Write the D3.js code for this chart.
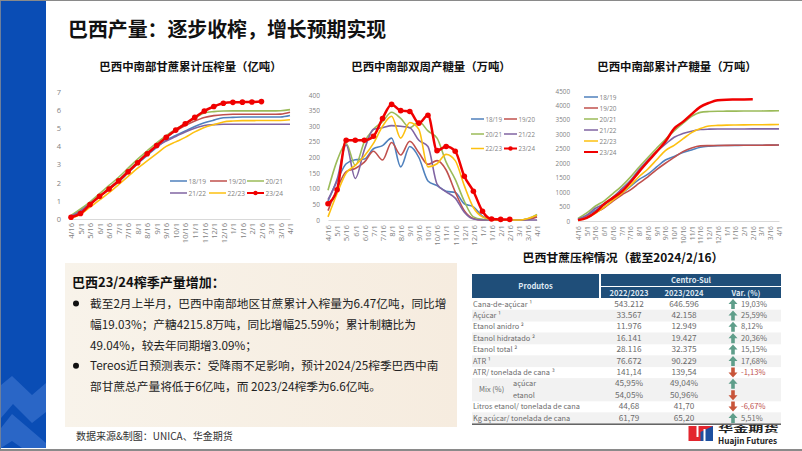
<!DOCTYPE html>
<html>
<head>
<meta charset="utf-8">
<script src="https://cdn.jsdelivr.net/npm/d3@7"></script>
<style>
  html, body { margin: 0; padding: 0; background: #fff; }
  svg { display: block; }
  text { font-family: "Noto Sans CJK SC", "Noto Sans", sans-serif; }
  .tick text, .legend-label { font-family: "Open Sans", "Noto Sans", sans-serif; fill: #7f7f7f; }
</style>
</head>
<body>
<svg id="page" width="802" height="451"></svg>
<script>
const dates = ["4/16","5/1","5/16","6/1","6/16","7/1","7/16","8/1","8/16","9/1","9/16","10/1","10/16","11/1","11/16","12/1","12/16","1/1","1/16","2/1","2/16","3/1","3/16","4/1"];
const seasons = ["18/19","19/20","20/21","21/22","22/23","23/24"];
const seasonColors = ["#4f81bd","#c0504d","#9bbb59","#8064a2","#fdc010","#f00000"];

// 累计压榨量 (亿吨)
const crush1819 = [0.15,0.45,0.85,1.25,1.65,2.05,2.55,3.05,3.5,3.95,4.35,4.6,4.85,5.1,5.3,5.45,5.58,5.6,5.62,5.62,5.62,5.62,5.62,5.7];
const crush1920 = [0.1,0.4,0.8,1.25,1.7,2.15,2.65,3.15,3.6,4.05,4.5,4.85,5.15,5.4,5.6,5.7,5.75,5.77,5.77,5.77,5.77,5.77,5.78,5.88];
const crush2021 = [0.2,0.55,0.95,1.4,1.85,2.3,2.8,3.3,3.75,4.2,4.6,4.95,5.25,5.55,5.85,5.92,5.95,5.96,5.96,5.96,5.96,5.96,5.97,6.03];
const crush2122 = [0.15,0.45,0.85,1.25,1.65,2.1,2.6,3.1,3.55,4.0,4.3,4.55,4.8,5.0,5.15,5.2,5.22,5.22,5.22,5.22,5.22,5.22,5.22,5.22];
const crush2223 = [0.05,0.25,0.65,1.05,1.45,1.9,2.35,2.8,3.2,3.6,4.0,4.25,4.5,4.8,5.05,5.2,5.35,5.4,5.42,5.42,5.43,5.43,5.43,5.47];
const crush2324 = [0.1,0.3,0.8,1.25,1.65,2.1,2.6,3.1,3.6,4.05,4.5,4.9,5.25,5.6,5.95,6.2,6.38,6.43,6.44,6.45,6.47];

// 双周产糖量 (万吨)
const sugar1819 = [60,125,180,193,195,228,238,262,170,235,200,125,110,92,88,52,42,12,1,0,0,0,3,15];
const sugar1920 = [30,100,155,165,185,220,192,248,208,252,215,178,190,160,90,30,5,0,0,0,0,0,2,10];
const sugar2021 = [95,190,245,175,250,290,315,345,325,295,315,285,262,185,130,60,10,2,0,0,0,0,4,18];
const sugar2122 = [65,130,240,133,225,290,295,302,300,295,255,235,115,90,70,25,3,0,0,0,0,0,0,0];
const sugar2223 = [10,85,150,175,205,245,300,332,262,312,290,170,180,210,190,110,40,10,2,0,0,0,5,15];
const sugar2324 = [52,97,255,255,255,268,325,370,350,347,310,335,222,235,220,140,92,28,3,2,2];

// 累计产糖量 (万吨)
const total1819 = [60,190,370,560,760,950,1200,1440,1620,1870,2110,2230,2370,2460,2550,2590,2610,2615,2618,2620,2620,2622,2625,2630];
const total1920 = [30,130,290,460,690,900,1080,1310,1530,1780,2000,2200,2400,2530,2600,2610,2615,2618,2620,2620,2622,2624,2626,2630];
const total2021 = [90,280,520,700,950,1210,1520,1870,2200,2520,2830,3120,3380,3620,3760,3790,3800,3802,3804,3806,3808,3810,3812,3815];
const total2122 = [60,200,440,600,830,1110,1400,1780,2110,2400,2660,2900,3030,3110,3165,3180,3185,3186,3186,3187,3188,3188,3189,3190];
const total2223 = [20,110,270,480,720,960,1230,1540,1800,2120,2440,2620,2840,3060,3200,3290,3310,3320,3325,3328,3330,3332,3335,3340];
const total2324 = [30,110,300,590,800,1020,1340,1710,2060,2400,2750,3200,3430,3700,3950,4090,4180,4200,4205,4210,4216];

// 表格
const tableNames = ["Cana-de-açúcar ¹","Açúcar ¹","Etanol anidro ²","Etanol hidratado ²","Etanol total ²","ATR ¹","ATR/ tonelada de cana ³","açúcar","etanol","Litros etanol/ tonelada de cana","Kg açúcar/ tonelada de cana"];
const table2223 = ["543.212","33.567","11.976","16.141","28.116","76.672","141,14","45,95%","54,05%","44,68","61,79"];
const table2324 = ["646.596","42.158","12.949","19.427","32.375","90.229","139,54","49,04%","50,96%","41,70","65,20"];
const tableVar = ["19,03%","25,59%","8,12%","20,36%","15,15%","17,68%","-1,13%","","","-6,67%","5,51%"];
const tableDir = [1,1,1,1,1,1,-1,1,-1,-1,1];

const bodyLines = [
  "截至2月上半月，巴西中南部地区甘蔗累计入榨量为6.47亿吨，同比增",
  "幅19.03%；产糖4215.8万吨，同比增幅25.59%；累计制糖比为",
  "49.04%，较去年同期增3.09%；",
  "Tereos近日预测表示：受降雨不足影响，预计2024/25榨季巴西中南",
  "部甘蔗总产量将低于6亿吨，而 2023/24榨季为6.6亿吨。"
];

const svg = d3.select("#page");

const defs = svg.append("defs");
const panelGrad = defs.append("linearGradient").attr("id", "panelGrad");
panelGrad.append("stop").attr("offset", "0%").attr("stop-color", "#f8f3ea");
panelGrad.append("stop").attr("offset", "100%").attr("stop-color", "#f6ecdf");

// 页面框架
svg.append("rect").attr("x", 0).attr("y", 1).attr("width", 46).attr("height", 447).attr("fill", "#0a4db5");
svg.selectAll(".chevron")
  .data([
    "M1,385 L12,376 L32,395 L46,383 L46,412 L32,423 L13,404 L1,418 Z",
    "M1,428 L12,414 L46,443 L46,448 L22,448 L12,441 L1,448 Z"
  ])
  .join("path").attr("class", "chevron").attr("d", d => d).attr("fill", "#2a66c6");
svg.append("rect").attr("x", 0).attr("y", 0).attr("width", 1).attr("height", 451).attr("fill", "#6d7f9c");
svg.append("rect").attr("x", 0).attr("y", 0).attr("width", 802).attr("height", 1).attr("fill", "#8a8a8a");
svg.append("rect").attr("x", 0).attr("y", 449).attr("width", 802).attr("height", 2).attr("fill", "#8a8a8a");

svg.append("text").attr("x", 68).attr("y", 36.5)
  .attr("font-size", 19.9).attr("font-weight", 700).attr("fill", "#111")
  .text("巴西产量：逐步收榨，增长预期实现");

const titles = [
  { x: 190.5, t: "巴西中南部甘蔗累计压榨量（亿吨）" },
  { x: 431, t: "巴西中南部双周产糖量（万吨）" },
  { x: 677, t: "巴西中南部累计产糖量（万吨）" }
];
svg.selectAll(".chart-title").data(titles).join("text")
  .attr("class", "chart-title")
  .attr("x", d => d.x).attr("y", 71)
  .attr("text-anchor", "middle")
  .attr("font-size", 11.4).attr("font-weight", 700).attr("fill", "#111")
  .text(d => d.t);

function lineChart(opts) {
  const x = d3.scalePoint().domain(dates).range([opts.left, opts.right]);
  const y = d3.scaleLinear().domain([0, opts.max]).range([opts.bottom, opts.top]);
  const g = svg.append("g");

  g.append("g").attr("transform", `translate(0,${opts.bottom})`)
    .call(d3.axisBottom(x).tickSize(0))
    .call(a => a.select(".domain").attr("stroke", "#d9d9d9"))
    .call(a => a.selectAll("text")
      .attr("font-size", opts.xFont)
      .attr("text-anchor", "end")
      .attr("x", 0).attr("y", 0).attr("dx", 0).attr("dy", 0)
      .attr("transform", `translate(${opts.xFont * 0.36},${opts.xTop}) rotate(-90)`));

  g.append("g").attr("transform", `translate(${opts.left - opts.yGap},0)`)
    .call(d3.axisLeft(y).tickValues(d3.range(0, opts.max + 1, opts.step)).tickFormat(d3.format("d")).tickSize(0).tickPadding(0))
    .call(a => a.select(".domain").remove())
    .call(a => a.selectAll("text").attr("font-size", opts.yFont));

  const line = d3.line()
    .x((d, i) => x(dates[i]))
    .y(d => y(d))
    .curve(d3.curveMonotoneX);

  opts.series.forEach((values, s) => {
    g.append("path").datum(values)
      .attr("fill", "none")
      .attr("stroke", seasonColors[s])
      .attr("stroke-width", s === 5 ? 2.5 : 1.6)
      .attr("d", line);
  });

  if (opts.markers) {
    g.append("g").selectAll("circle").data(opts.series[5]).join("circle")
      .attr("cx", (d, i) => x(dates[i]))
      .attr("cy", d => y(d))
      .attr("r", 2.8)
      .attr("fill", seasonColors[5]);
  }

  // 图例
  const lg = g.append("g");
  opts.legend.forEach((p, s) => {
    lg.append("line")
      .attr("x1", p[0]).attr("x2", p[0] + opts.legendLen)
      .attr("y1", p[1]).attr("y2", p[1])
      .attr("stroke", seasonColors[s])
      .attr("stroke-width", s === 5 ? 2 : 1.5);
    if (opts.markers && s === 5) {
      lg.append("circle").attr("cx", p[0] + opts.legendLen / 2).attr("cy", p[1]).attr("r", 2.2).attr("fill", seasonColors[5]);
    }
    lg.append("text")
      .attr("class", "legend-label")
      .attr("x", p[0] + opts.legendLen + 1.5).attr("y", p[1] + 2.5)
      .attr("font-size", opts.legendFont)
      .text(seasons[s]);
  });
}

lineChart({
  left: 71, right: 290, top: 92, bottom: 219, max: 7, step: 1,
  yFont: 7.5, yGap: 10, xFont: 7.6, xTop: 4,
  series: [crush1819, crush1920, crush2021, crush2122, crush2223, crush2324],
  markers: true, legendLen: 17, legendFont: 6.6,
  legend: [[170,181],[210,181],[247,181],[170,193],[209,193],[247,193]]
});
lineChart({
  left: 328, right: 537, top: 95, bottom: 220, max: 400, step: 50,
  yFont: 6.5, yGap: 8, xFont: 7.8, xTop: 5,
  series: [sugar1819, sugar1920, sugar2021, sugar2122, sugar2223, sugar2324],
  markers: true, legendLen: 13, legendFont: 6.2,
  legend: [[471,119],[504,119],[471,134],[504,134],[471,148.5],[504,148.5]]
});
lineChart({
  left: 578, right: 779, top: 91, bottom: 221, max: 4500, step: 500,
  yFont: 6.3, yGap: 8, xFont: 6.8, xTop: 5,
  series: [total1819, total1920, total2021, total2122, total2223, total2324],
  markers: false, legendLen: 14, legendFont: 6.4,
  legend: [[584,97],[584,108],[584,119],[584,130],[584,141],[584,152]]
});

// 文字框
svg.append("rect").attr("x", 65).attr("y", 263).attr("width", 392).attr("height", 164).attr("fill", "url(#panelGrad)");
svg.append("text").attr("x", 72).attr("y", 287)
  .attr("font-size", 13).attr("font-weight", 700).attr("fill", "#111")
  .text("巴西23/24榨季产量增加：");

const bodyY = d3.scaleLinear().domain([0, 4]).range([308, 391]);
svg.selectAll(".body-line").data(bodyLines).join("text")
  .attr("class", "body-line")
  .attr("x", 90).attr("y", (d, i) => bodyY(i))
  .attr("font-size", 11.7).attr("fill", "#222")
  .text(d => d);
svg.selectAll(".bullet").data([0, 3]).join("circle")
  .attr("class", "bullet")
  .attr("cx", 76).attr("cy", d => bodyY(d) - 4.5).attr("r", 3).attr("fill", "#111");

svg.append("text").attr("x", 76).attr("y", 440)
  .attr("font-size", 10).attr("fill", "#333")
  .text("数据来源&制图：UNICA、华金期货");

// 表格
svg.append("text").attr("x", 623).attr("y", 262)
  .attr("text-anchor", "middle").attr("font-size", 11.9).attr("font-weight", 700).attr("fill", "#111")
  .text("巴西甘蔗压榨情况（截至2024/2/16）");

const navy = "#1f4e79";
const tableG = svg.append("g");
tableG.append("rect").attr("x", 472).attr("y", 274).attr("width", 127).attr("height", 24).attr("fill", navy);
tableG.append("rect").attr("x", 601).attr("y", 274).attr("width", 180).attr("height", 12).attr("fill", navy);
tableG.append("rect").attr("x", 601).attr("y", 287).attr("width", 180).attr("height", 11).attr("fill", navy);

const headers = [
  { x: 535.5, y: 289, t: "Produtos" },
  { x: 691, y: 283, t: "Centro-Sul" },
  { x: 629, y: 295.5, t: "2022/2023" },
  { x: 684, y: 295.5, t: "2023/2024" },
  { x: 746, y: 295.5, t: "Var. (%)" }
];
tableG.selectAll(".head").data(headers).join("text")
  .attr("class", "head")
  .attr("x", d => d.x).attr("y", d => d.y)
  .attr("text-anchor", "middle")
  .attr("font-family", "'Open Sans', sans-serif")
  .attr("font-size", 7.6).attr("font-weight", 700).attr("fill", "#dfe8f2")
  .text(d => d.t);

const rowY = d3.scaleLinear().domain([0, 10]).range([304, 418]);
const rowH = 11.4;
// 灰底行
[1, 3, 5, 7, 8, 10].forEach(i => {
  tableG.append("rect").attr("x", 472).attr("y", rowY(i) - rowH / 2).attr("width", 309).attr("height", rowH + 0.4).attr("fill", "#f2f2f2");
});

const rowText = (values, x, anchor, cls, size) => {
  tableG.selectAll("." + cls).data(values).join("text")
    .attr("class", cls)
    .attr("x", x)
    .attr("y", (d, i) => rowY(i) + 2.6)
    .attr("text-anchor", anchor)
    .attr("font-family", "'Open Sans', sans-serif")
    .attr("font-size", size)
    .attr("fill", (d) => d.startsWith("-") ? "#c0504d" : "#6b6b6b")
    .text(d => d);
};
rowText(tableNames, (d, i) => (i === 7 || i === 8) ? 513 : 473, "start", "name", 7.4);
rowText(table2223, 629, "middle", "a", 8.2);
rowText(table2324, 684, "middle", "b", 8.2);
rowText(tableVar, 741, "start", "c", 7.6);
tableG.append("text").attr("x", 479).attr("y", rowY(7.5) + 2.6)
  .attr("font-family", "'Open Sans', sans-serif").attr("font-size", 7.4).attr("fill", "#6b6b6b")
  .text("Mix (%)");

const upArrow = "M0,-5 L4.5,0 L1.8,0 L1.8,5 L-1.8,5 L-1.8,0 L-4.5,0 Z";
const downArrow = "M0,5 L4.5,0 L1.8,0 L1.8,-5 L-1.8,-5 L-1.8,0 L-4.5,0 Z";
tableG.selectAll(".arrow").data(tableDir).join("path")
  .attr("class", "arrow")
  .attr("transform", (d, i) => `translate(733,${rowY(i)})`)
  .attr("d", d => d > 0 ? upArrow : downArrow)
  .attr("fill", d => d > 0 ? "#5f9e8a" : "#c8553a");

tableG.append("rect").attr("x", 472).attr("y", 423.5).attr("width", 309).attr("height", 1.4).attr("fill", "#555");

// logo
const logo = svg.append("g").attr("transform", "translate(688.5,426)");
logo.append("rect").attr("width", 24.5).attr("height", 15).attr("fill", "#e3262e");
logo.append("path").attr("d", "M12,6 L24.5,0 L24.5,15 L12,15 Z").attr("fill", "#1c4fa0");
logo.append("rect").attr("x", 8).attr("y", 0).attr("width", 2).attr("height", 11).attr("fill", "#fff");
logo.append("rect").attr("x", 15).attr("y", 3).attr("width", 2).attr("height", 12).attr("fill", "#fff");
svg.append("text").attr("transform", "translate(718,432.3) scale(1.85,1)")
  .attr("font-size", 8.2).attr("font-weight", 700).attr("fill", "#222")
  .text("华金期货");
svg.append("text").attr("x", 718).attr("y", 444.2)
  .attr("font-family", "'Open Sans', sans-serif")
  .attr("font-size", 8.2).attr("font-weight", 700).attr("fill", "#222")
  .text("Huajin Futures");
</script>
</body>
</html>
